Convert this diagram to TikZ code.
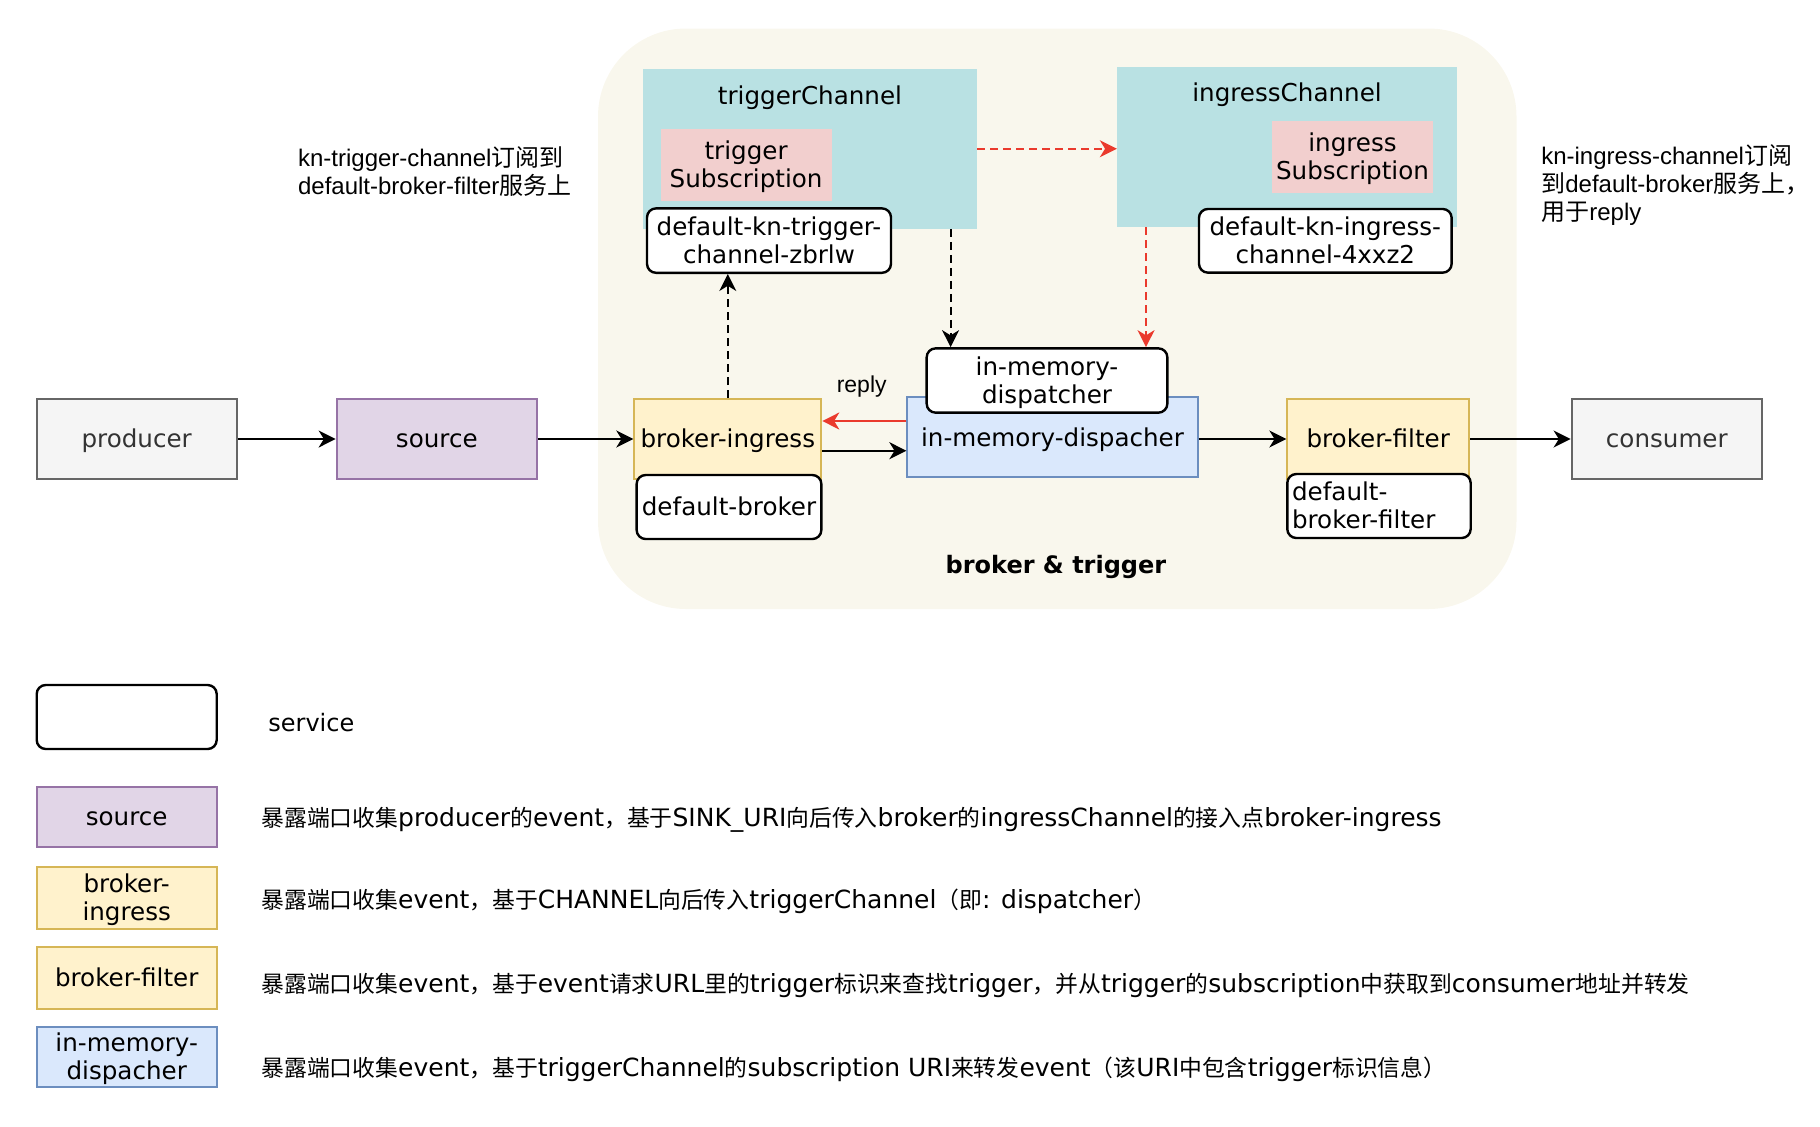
\documentclass[tikz,border=0pt]{standalone}
\usepackage{fontspec}
\setmainfont{DejaVu Sans}
\newfontfamily\cjk{Noto Sans CJK SC}
\newfontfamily\arialf{Liberation Sans}
\usetikzlibrary{arrows.meta}
\newcommand\zh[1]{{\cjk #1}}
\newcommand\zl[1]{{\cjk\fontsize{11.4}{14}\selectfont #1}}
\definecolor{contfill}{HTML}{F9F7ED}
\definecolor{chanfill}{HTML}{B9E1E3}
\definecolor{subfill}{HTML}{F2CFCE}
\definecolor{grayfill}{HTML}{F5F5F5}
\definecolor{graydraw}{HTML}{666666}
\definecolor{graytext}{HTML}{333333}
\definecolor{purfill}{HTML}{E1D5E7}
\definecolor{purdraw}{HTML}{9673A6}
\definecolor{yelfill}{HTML}{FFF2CC}
\definecolor{yeldraw}{HTML}{D6B656}
\definecolor{blufill}{HTML}{DAE8FC}
\definecolor{bludraw}{HTML}{6C8EBF}
\definecolor{redline}{HTML}{EA3A2D}
\tikzset{
  base/.style={inner sep=0pt, align=center, font=\fontsize{12.3}{14}\selectfont, text depth=0.84pt},
  one/.style={text height=9.35pt},
  plainbox/.style={base, draw, line width=1pt},
  svcbox/.style={base, draw=black, fill=white, line width=1.2pt, rounded corners=4.5pt},
  graybox/.style={plainbox, fill=grayfill, draw=graydraw, text=graytext},
  purbox/.style={plainbox, fill=purfill, draw=purdraw},
  yelbox/.style={plainbox, fill=yelfill, draw=yeldraw},
  blubox/.style={plainbox, fill=blufill, draw=bludraw},
  chanbox/.style={base, fill=chanfill},
  subbox/.style={base, fill=subfill},
  arr/.style={line width=1pt, -{Stealth[length=8.5pt, width=8.5pt, inset=2.6pt]}},
  dsh/.style={dash pattern=on 3.8pt off 2.7pt},
  note/.style={inner sep=0pt, align=left, font=\arialf\fontsize{12}{14}\selectfont},
  legtext/.style={inner sep=0pt, anchor=west, font=\fontsize{12.5}{14}\selectfont},
}
\begin{document}
\begin{tikzpicture}[x=0.5pt, y=-0.5pt]
\useasboundingbox (0,0) rectangle (1820,1126);
% container
\node[fill=contfill, rounded corners=44pt, minimum width=459.25pt, minimum height=290.25pt, inner sep=0pt] (cont) at (1057.25,318.75) {};
\node[base, one, font=\bfseries\fontsize{12}{14}\selectfont] (bt) at (1056,564.5) {broker \& trigger};
% channels
\node[chanbox, minimum width=167pt, minimum height=79.75pt,
  label={[base, one, anchor=center, yshift=-13.8pt]north:triggerChannel}] (tc) at (810,148.75) {};
\node[chanbox, minimum width=169.75pt, minimum height=79.7pt,
  label={[base, one, anchor=center, yshift=-13pt]north:ingressChannel}] (ic) at (1287,146.9) {};
\node[subbox, minimum width=85.6pt, minimum height=36pt] (ts) at (746.1,164.5) {trigger\\Subscription};
\node[subbox, minimum width=80.85pt, minimum height=35.85pt] (is) at (1352.5,156.8) {ingress\\Subscription};
\node[svcbox, minimum width=122pt, minimum height=32.2pt] (dkt) at (769,240.6) {default-kn-trigger-\\channel-zbrlw};
\node[svcbox, minimum width=126.35pt, minimum height=31.85pt] (dki) at (1325.3,240.8) {default-kn-ingress-\\channel-4xxz2};
% main row
\node[graybox, one, minimum width=100.1pt, minimum height=40.3pt] (prod) at (136.7,439) {producer};
\node[purbox, one, minimum width=100.15pt, minimum height=40.3pt] (src) at (436.8,439) {source};
\node[yelbox, one, minimum width=93.5pt, minimum height=40pt] (bi) at (727.8,439) {broker-ingress};
\node[svcbox, one, minimum width=92.35pt, minimum height=32pt] (db) at (729,507) {default-broker};
\node[blubox, one, text depth=0.2pt, minimum width=145.15pt, minimum height=40pt] (imb) at (1052.5,437.3) {in-memory-dispacher};
\node[svcbox, minimum width=120.35pt, minimum height=32.15pt] (imd) at (1047,380.5) {in-memory-\\dispatcher};
\node[yelbox, one, minimum width=90.85pt, minimum height=40.3pt] (bf) at (1378.2,439) {broker-filter};
\node[svcbox, minimum width=91.7pt, minimum height=32pt, align=left] (dbf) at (1379,506) {default-\\broker-filter\hspace*{15.3pt}};
\node[graybox, one, minimum width=95.2pt, minimum height=40.3pt] (cons) at (1666.8,439) {consumer};
\node[note, font=\arialf\fontsize{11.5}{13}\selectfont] (reply) at (861.7,386.5) {reply};
% notes
\node[note, anchor=west] (n1) at (297.7,171.5) {kn-trigger-channel\zh{订阅到}\\default-broker-filter\zh{服务上}};
\node[note, anchor=west] (n2) at (1540.9,185) {kn-ingress-channel\zh{订阅}\\\zh{到}default-broker\zh{服务上，}\\\zh{用于}reply};
% connectors
\draw[arr] (prod.east) -- (src.west);
\draw[arr] (src.east) -- (bi.west);
\draw[arr] (bf.west -| imb.east) -- (bf.west);
\draw[arr] (bf.east) -- (cons.west);
\draw[arr] ([yshift=-5.85pt]bi.east) -- ([yshift=-5.85pt]bi.east -| imb.west);
\draw[arr, redline] ([yshift=9pt]bi.east -| imb.west) -- ([yshift=9pt]bi.east);
\draw[arr, dsh] (bi.north) -- (bi.north |- dkt.south);
\draw[arr, dsh] ([xshift=70.3pt]tc.south) -- ([xshift=70.3pt]tc.south |- imd.north);
\draw[arr, dsh, redline] ([xshift=-70.5pt]ic.south) -- ([xshift=-70.5pt]ic.south |- imd.north);
\draw[arr, dsh, redline] (tc.east) -- (tc.east -| ic.west);
% legend
\node[svcbox, minimum width=90pt, minimum height=32pt] (lsvc) at (126.7,717) {};
\node[legtext, font=\fontsize{12}{14}\selectfont] (tsvc) at (268,723) {service};
\node[purbox, one, minimum width=90pt, minimum height=30pt] (lsrc) at (126.7,816.7) {source};
\node[yelbox, minimum width=90pt, minimum height=31pt] (lbi) at (126.7,897.7) {broker-\\ingress};
\node[yelbox, one, minimum width=90pt, minimum height=31pt] (lbf) at (126.7,977.7) {broker-filter};
\node[blubox, minimum width=90pt, minimum height=30pt] (limd) at (126.7,1056.7) {in-memory-\\dispacher};
\node[legtext] (t1) at (261,820) {\zl{暴露端口收集}producer\zl{的}event\zl{，基于}SINK\_URI\zl{向后传入}broker\zl{的}ingressChannel\zl{的接入点}broker-ingress};
\node[legtext] (t2) at (261,901) {\zl{暴露端口收集}event\zl{，基于}CHANNEL\zl{向后传入}triggerChannel\zl{（即}: dispatcher\zl{）}};
\node[legtext] (t3) at (261,985) {\zl{暴露端口收集}event\zl{，基于}event\zl{请求}URL\zl{里的}trigger\zl{标识来查找}trigger\zl{，并从}trigger\zl{的}subscription\zl{中获取到}consumer\zl{地址并转发}};
\node[legtext] (t4) at (261,1069) {\zl{暴露端口收集}event\zl{，基于}triggerChannel\zl{的}subscription URI\zl{来转发}event\zl{（该}URI\zl{中包含}trigger\zl{标识信息）}};
\end{tikzpicture}
\end{document}
